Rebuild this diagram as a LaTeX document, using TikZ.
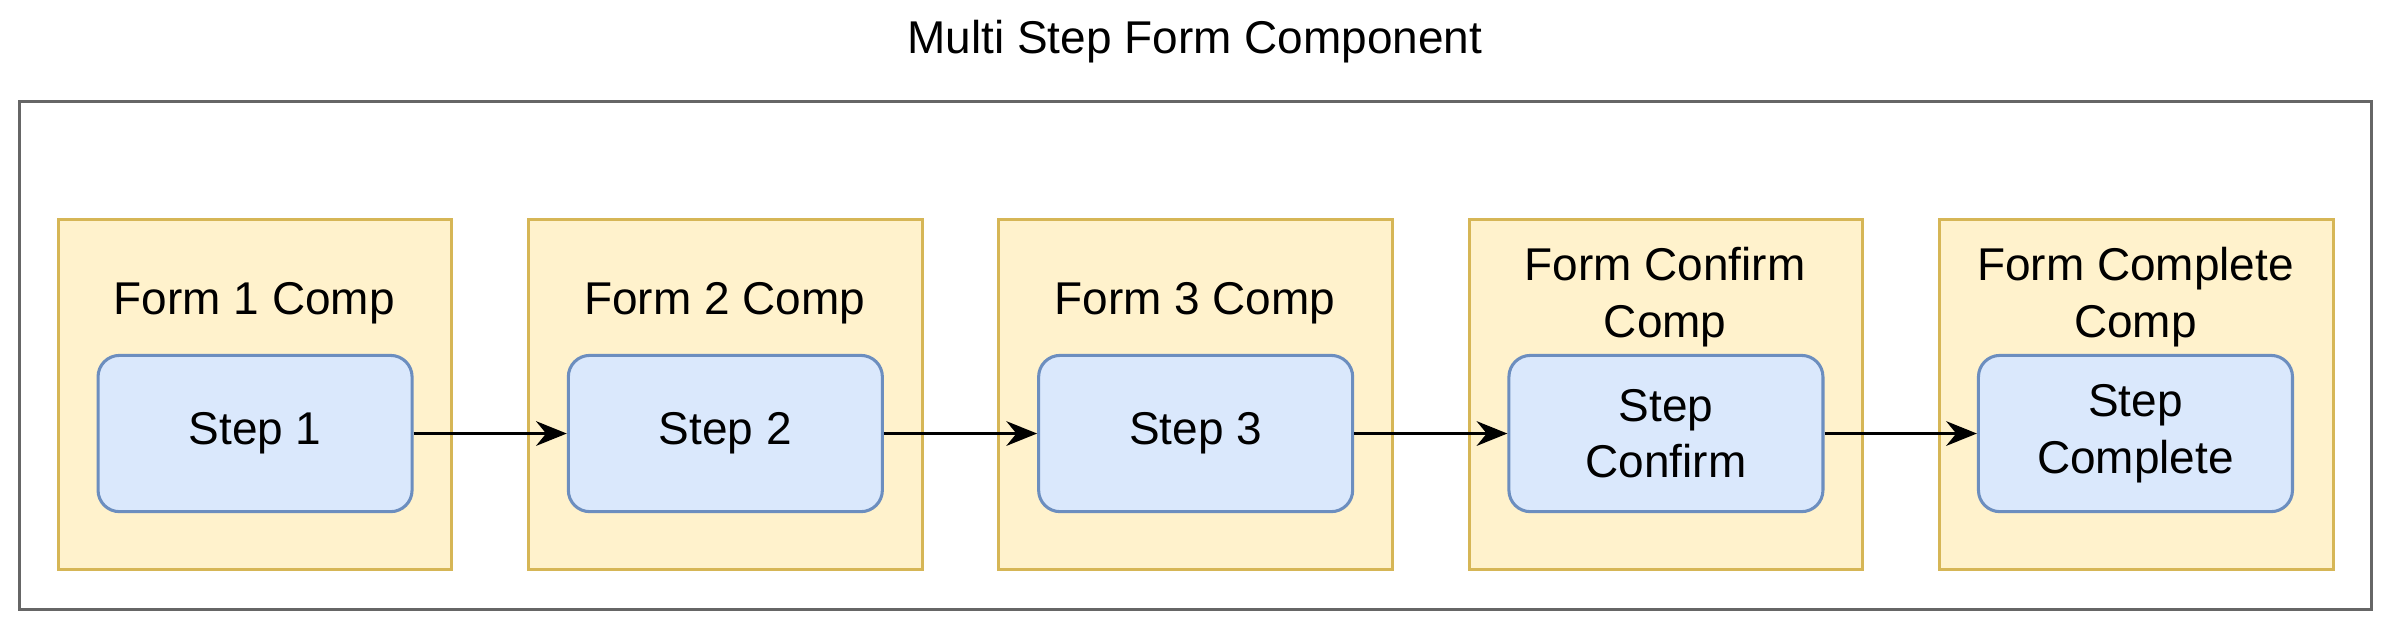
\documentclass[tikz,border=0pt]{standalone}
\usepackage{fontspec}
\setmainfont{Liberation Sans}
\usetikzlibrary{arrows.meta}
\definecolor{yfill}{HTML}{FFF2CC}\definecolor{ystroke}{HTML}{D6B656}
\definecolor{bfill}{HTML}{DAE8FC}\definecolor{bstroke}{HTML}{6C8EBF}
\begin{document}
\begin{tikzpicture}[x=1pt,y=-1pt,
  every node/.style={font=\fontsize{30}{37}\selectfont},
  comp/.style={draw=ystroke,fill=yfill,line width=2pt},
  stp/.style={draw=bstroke,fill=bfill,line width=2pt,rounded corners=14pt,minimum width=205pt,minimum height=102pt,align=center,inner sep=0pt},
  lab/.style={align=center,inner sep=0pt},
  arr/.style={-{Stealth[length=20pt,width=16pt]},line width=2.5pt}]
\useasboundingbox (0,0) rectangle (1568,415);
\node[lab] (title) at (780,27) {Multi Step Form Component};
\draw[draw=black!60,line width=2pt] (13,66) rectangle (1548,398);
\foreach \x in {38,345,652,959,1266}{\draw[comp] (\x,143) rectangle ++(257,229);}
\node[lab] (l1) at (166,198) {Form 1 Comp};
\node[lab] (l2) at (473,198) {Form 2 Comp};
\node[lab] (l3) at (780,198) {Form 3 Comp};
\node[lab] (l4) at (1087,194) {Form Confirm\\Comp};
\node[lab] (l5) at (1394,194) {Form Complete\\Comp};
\node[stp] (s1) at (166.5,283) {Step 1};
\node[stp] (s2) at (473.5,283) {Step 2};
\node[stp] (s3) at (780.5,283) {Step 3};
\node[stp] (s4) at (1087.5,283) {Step\\Confirm};
\node[stp] (s5) at (1394,283) {Step\\Complete};
\draw[arr] (s1) -- (s2);
\draw[arr] (s2) -- (s3);
\draw[arr] (s3) -- (s4);
\draw[arr] (s4) -- (s5);
\end{tikzpicture}
\end{document}
